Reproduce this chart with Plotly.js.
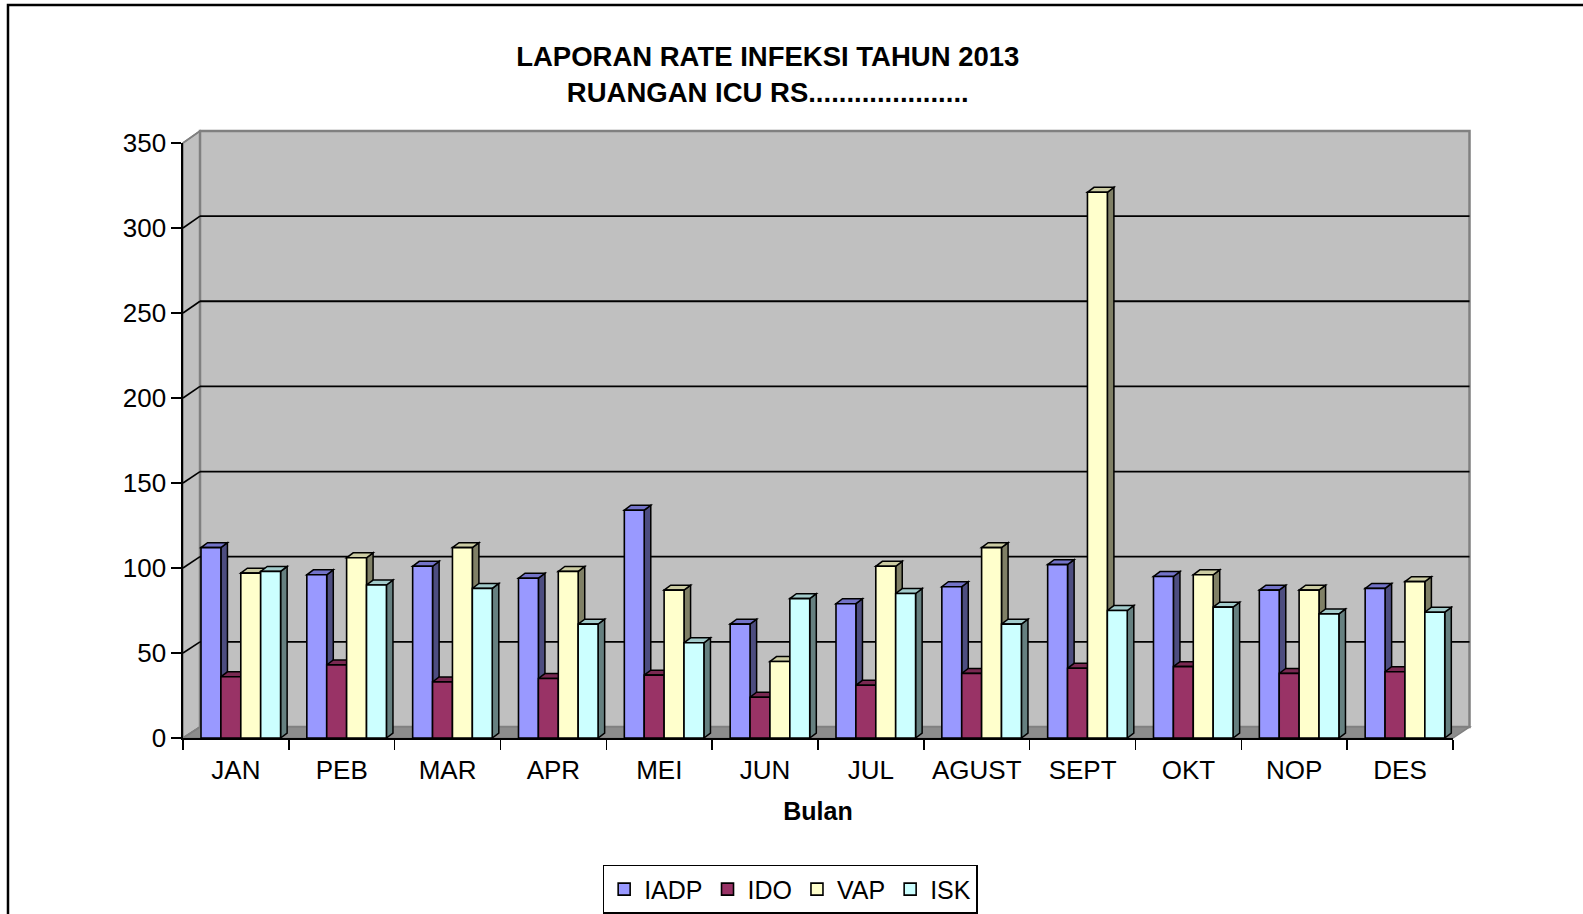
<!DOCTYPE html>
<html>
<head>
<meta charset="utf-8">
<script src="https://cdn.plot.ly/plotly-3.0.1.min.js"></script>
<style>
  html, body { margin: 0; padding: 0; background: #ffffff; }
  #chart { width: 1583px; height: 914px; }
</style>
</head>
<body>
<div id="chart"></div>
<script>
// ---- data ----
const categories = ['JAN', 'PEB', 'MAR', 'APR', 'MEI', 'JUN', 'JUL', 'AGUST', 'SEPT', 'OKT', 'NOP', 'DES'];
const iadp = [112, 96, 101, 94, 134, 67, 79, 89, 102, 95, 87, 88];
const ido  = [36, 43, 33, 35, 37, 24, 31, 38, 41, 42, 38, 39];
const vap  = [97, 106, 112, 98, 87, 45, 101, 112, 321, 96, 87, 92];
const isk  = [98, 90, 88, 67, 56, 82, 85, 67, 75, 77, 73, 74];
const seriesNames = ['IADP', 'IDO', 'VAP', 'ISK'];
const yTickValues = [0, 50, 100, 150, 200, 250, 300, 350];

// ---- styles ----
const seriesValues = [iadp, ido, vap, isk];
const frontColors = ['#9999FF', '#993366', '#FFFFCC', '#CCFFFF'];
const topColors   = ['#7373c8', '#7a2952', '#cccca3', '#a3cccc'];
const sideColors  = ['#4d4d80', '#4d1a33', '#808066', '#668080'];
const FONT = 'Liberation Sans, Arial, Helvetica, sans-serif';

const W = 0.188;          // bar width (category units)
const OFF0 = -0.33;       // offset of first bar
const DX = 0.062;         // 3D depth in x (category units)
const DY = 2.9;           // 3D depth in y (value units)
const YMAX = 350;

// back wall geometry in paper coordinates
const BX0 = 0.0134, BX1 = 1.013, BY0 = 0.0185, BY1 = 1.0202;

const traces = seriesValues.map((vals, k) => ({
  type: 'bar',
  name: seriesNames[k],
  x: categories,
  y: vals,
  width: W,
  offset: OFF0 + k * W,
  marker: { color: frontColors[k], line: { color: '#000000', width: 1.6 } },
  hoverinfo: 'x+y+name'
}));

const shapes = [];
// left wall
shapes.push({ type: 'path', xref: 'paper', yref: 'paper', layer: 'below',
  path: `M0,0 L0,1 L${BX0},${BY1} L${BX0},${BY0} Z`,
  fillcolor: '#c0c0c0', line: { color: '#808080', width: 1.5 } });
// back wall
shapes.push({ type: 'rect', xref: 'paper', yref: 'paper', layer: 'below',
  x0: BX0, x1: BX1, y0: BY0, y1: BY1,
  fillcolor: '#c0c0c0', line: { color: '#808080', width: 2.5 } });
// floor
shapes.push({ type: 'path', xref: 'paper', yref: 'paper', layer: 'below',
  path: `M0,0 L1,0 L${BX1},${BY0} L${BX0},${BY0} Z`,
  fillcolor: '#8c8c8c', line: { color: '#808080', width: 1.5 } });
// gridlines on the back wall + connectors on the left wall
yTickValues.forEach(v => {
  const fy = v / YMAX;
  const by = BY0 + fy * (BY1 - BY0);
  if (v > 0 && v < YMAX) {
    shapes.push({ type: 'line', xref: 'paper', yref: 'paper', layer: 'below',
      x0: BX0, x1: BX1, y0: by, y1: by, line: { color: '#000000', width: 1.8 } });
  }
  shapes.push({ type: 'line', xref: 'paper', yref: 'paper', layer: 'below',
    x0: 0, x1: BX0, y0: fy, y1: by,
    line: { color: v === 0 || v === YMAX ? '#808080' : '#000000', width: 1.6 } });
});
// 3D faces of the bars
seriesValues.forEach((vals, k) => {
  vals.forEach((v, i) => {
    const x0 = i + OFF0 + k * W;
    const x1 = x0 + W;
    shapes.push({ type: 'path', xref: 'x', yref: 'y', layer: 'below',
      path: `M${x1},0 L${x1},${v} L${x1 + DX},${v + DY} L${x1 + DX},${DY} Z`,
      fillcolor: sideColors[k], line: { color: '#000000', width: 1.5 } });
    shapes.push({ type: 'path', xref: 'x', yref: 'y', layer: 'below',
      path: `M${x0},${v} L${x1},${v} L${x1 + DX},${v + DY} L${x0 + DX},${v + DY} Z`,
      fillcolor: topColors[k], line: { color: '#000000', width: 1.5 } });
  });
});
// outer frame
shapes.push({ type: 'rect', xref: 'paper', yref: 'paper', layer: 'above',
  x0: -0.1378, x1: 1.12, y0: -0.35, y1: 1.2319,
  fillcolor: 'rgba(0,0,0,0)', line: { color: '#000000', width: 2.5 } });

const layout = {
  width: 1583,
  height: 914,
  margin: { l: 183, r: 130, t: 143, b: 176, pad: 0, autoexpand: false },
  paper_bgcolor: '#ffffff',
  plot_bgcolor: 'rgba(0,0,0,0)',
  font: { family: FONT, color: '#000000', size: 26 },
  barmode: 'overlay',
  showlegend: true,
  title: {
    text: '<b>LAPORAN RATE INFEKSI TAHUN 2013<br>RUANGAN ICU RS.....................</b>',
    font: { family: FONT, size: 27.5, color: '#000000' },
    x: 0.485, xref: 'container', xanchor: 'center',
    y: 1 - 66 / 914, yref: 'container', yanchor: 'middle'
  },
  xaxis: {
    type: 'category',
    range: [-0.5, 11.5],
    tickson: 'boundaries',
    ticks: 'outside', ticklen: 10, tickwidth: 1.6, tickcolor: '#000000',
    ticklabelstandoff: 8,
    showline: true, linecolor: '#000000', linewidth: 1.6,
    showgrid: false, zeroline: false,
    automargin: false,
    tickfont: { family: FONT, size: 26, color: '#000000' },
    title: { text: '<b>Bulan</b>', font: { family: FONT, size: 25, color: '#000000' }, standoff: 19 },
    fixedrange: true
  },
  yaxis: {
    range: [0, YMAX],
    tickvals: yTickValues,
    ticks: 'outside', ticklen: 10, tickwidth: 1.6, tickcolor: '#000000',
    showline: true, linecolor: '#000000', linewidth: 1.6,
    showgrid: false, zeroline: false,
    automargin: false,
    tickfont: { family: FONT, size: 26, color: '#000000' },
    fixedrange: true
  },
  legend: {
    orientation: 'h',
    x: 0.478, xanchor: 'center',
    y: -0.213, yanchor: 'top',
    bordercolor: '#000000', borderwidth: 1.6,
    bgcolor: '#ffffff',
    itemwidth: 30,
    font: { family: FONT, size: 25, color: '#000000' },
    itemclick: false, itemdoubleclick: false
  },
  shapes: shapes
};

Plotly.newPlot('chart', traces, layout, { displayModeBar: false, staticPlot: true });
</script>
</body>
</html>
